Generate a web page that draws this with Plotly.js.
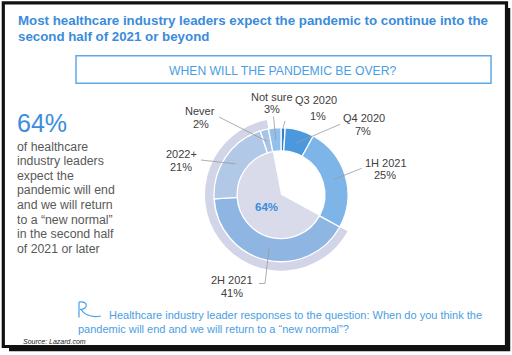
<!DOCTYPE html>
<html>
<head>
<meta charset="utf-8">
<script src="https://cdn.plot.ly/plotly-3.0.1.min.js"></script>
<style>html,body{margin:0;padding:0;background:#fff;}#chart{width:512px;height:355px;}</style>
</head>
<body>
<div id="chart"></div>
<script>
// ---- data ----
const categories = ['Q3 2020', 'Q4 2020', '1H 2021', '2H 2021', '2022+', 'Never', 'Not sure'];
const values = [1, 7, 25, 41, 21, 2, 3];
const highlighted = ['2H 2021', '2022+', 'Never'];
const titleLines = ['Most healthcare industry leaders expect the pandemic to continue into the', 'second half of 2021 or beyond'];
const boxTitle = 'WHEN WILL THE PANDEMIC BE OVER?';
const sideLines = ['of healthcare', 'industry leaders', 'expect the', 'pandemic will end', 'and we will return', 'to a \u201cnew normal\u201d', 'in the second half', 'of 2021 or later'];
const footLines = ['Healthcare industry leader responses to the question: When do you think the', 'pandemic will end and we will return to a \u201cnew normal\u201d?'];
const sourceText = 'Source: Lazard.com';

// ---- styles / positions ----
const sliceColors = ['#2f80d0', '#4b98df', '#7db5e8', '#8fb5e2', '#b1c8e7', '#a8c3e8', '#92bfeb'];
const ringColor = '#d2d5e7';
const wedgeColor = '#d9dbea';
const W = 512, H = 355;
const cx = 281, cy = 194.7, R = 67, holeFrac = 0.655, ringR = 76;
// label centres [line1 x,y, line2 x,y], leader start (label side), radius factor on slice
const labelPos = {
  'Q3 2020': {l1: [316, 100], l2: [318, 115.5], lead: [[285, 121]], rf: 1.0},
  'Q4 2020': {l1: [363.5, 118.3], l2: [363.3, 130.7], lead: [[340, 124.3]], rf: 0.8},
  '1H 2021': {l1: [386, 163.3], l2: [385, 175], lead: [[361.7, 168.3]], rf: 0.82},
  '2H 2021': {l1: [232, 280], l2: [231.7, 292.7], lead: [[259, 283.5], [265, 283.5]], rf: 0.82},
  '2022+': {l1: [181.7, 154.3], l2: [180.7, 166.7], lead: [[201, 160]], rf: 0.82},
  'Never': {l1: [200, 111], l2: [200.7, 124.3], lead: [[219, 117]], rf: 0.82},
  'Not sure': {l1: [272, 96.7], l2: [271.7, 109], lead: [[273.5, 116.5]], rf: 0.82}
};
const FONT = 'Liberation Sans, Arial, sans-serif';
const blue1 = '#3a8cdc', blue2 = '#4a9ee3';

const px = x => x / W, py = y => 1 - y / H;
const dom = r => ({x: [px(cx - r), px(cx + r)], y: [py(cy + r), py(cy - r)]});

const total = values.reduce((a, b) => a + b, 0);
const hiIdx = highlighted.map(c => categories.indexOf(c));
const firstHi = Math.min(...hiIdx), lastHi = Math.max(...hiIdx);
const pre = values.slice(0, firstHi).reduce((a, b) => a + b, 0);
const hi = values.slice(firstHi, lastHi + 1).reduce((a, b) => a + b, 0);
const post = total - pre - hi;
const hiText = Math.round(hi / total * 100) + '%';

const base = {type: 'pie', sort: false, direction: 'clockwise', rotation: 0, textinfo: 'none', hoverinfo: 'skip', showlegend: false};
const clear = 'rgba(0,0,0,0)';
const traces = [
  Object.assign({}, base, {values: [pre, hi, post], labels: ['a', 'b', 'c'], domain: dom(ringR), hole: R / ringR - 0.01,
    marker: {colors: [clear, ringColor, clear], line: {width: 0}}}),
  Object.assign({}, base, {values: [pre, hi, post], labels: ['a', 'b', 'c'], domain: dom(R * holeFrac), hole: 0,
    marker: {colors: [clear, wedgeColor, clear], line: {width: 0}}}),
  Object.assign({}, base, {values: values, labels: categories, domain: dom(R), hole: holeFrac,
    marker: {colors: sliceColors, line: {color: '#ffffff', width: 1.3}}})
];

const annotations = [];
const shapes = [];
const ann = (x, y, text, opt) => annotations.push(Object.assign({xref: 'paper', yref: 'paper', x: px(x), y: py(y), text: text, showarrow: false,
  xanchor: 'left', yanchor: 'middle', borderpad: 0, font: {family: FONT, size: 11, color: '#404040'}}, opt || {}));

// title
titleLines.forEach((t, i) => ann(17, 20.7 + 16 * i, '<b>' + t + '</b>', {font: {family: FONT, size: 13.3, color: blue1}}));
// boxed subtitle
shapes.push({type: 'rect', xref: 'paper', yref: 'paper', x0: px(76), x1: px(491), y0: py(83.3), y1: py(55.7), line: {color: '#5ea8e8', width: 1.5}});
ann(283.3, 70.7, boxTitle, {xanchor: 'center', font: {family: FONT, size: 12.2, color: blue2}});
// left side
ann(16, 122.5, hiText, {font: {family: FONT, size: 25, color: blue1}});
sideLines.forEach((t, i) => ann(16.3, 146.7 + 14.6 * i, t, {font: {family: FONT, size: 12.3, color: '#595959'}}));
// centre of donut
ann(266.7, 207.3, '<b>' + hiText + '</b>', {xanchor: 'center', font: {family: FONT, size: 11.5, color: blue1}});

// slice labels + leader lines computed from data
let cum = 0;
categories.forEach((c, i) => {
  const mid = (cum + values[i] / 2) / total * 2 * Math.PI;
  cum += values[i];
  const p = labelPos[c];
  ann(p.l1[0], p.l1[1], c, {xanchor: 'center'});
  ann(p.l2[0], p.l2[1], values[i] + '%', {xanchor: 'center'});
  const r = R * p.rf;
  const ex = cx + r * Math.sin(mid), ey = cy - r * Math.cos(mid);
  const pts = p.lead.concat([[ex, ey]]);
  let path = 'M' + pts.map(q => px(q[0]) * W + ',' + q[1]).join(' L');
  // use paper coordinates path
  path = 'M' + pts.map(q => px(q[0]) + ',' + py(q[1])).join(' L');
  shapes.push({type: 'path', xref: 'paper', yref: 'paper', path: path, line: {color: '#9a9a9a', width: 0.8}});
});

// footer logo (stylised R)
const P = (x, y) => px(x) + ',' + py(y);
shapes.push({type: 'path', xref: 'paper', yref: 'paper', line: {color: blue2, width: 1.2},
  path: 'M' + P(79, 302) + ' L' + P(79, 317.5)});
shapes.push({type: 'path', xref: 'paper', yref: 'paper', line: {color: blue2, width: 1.2},
  path: 'M' + P(79, 302) + ' C' + P(88, 301) + ' ' + P(89, 309) + ' ' + P(80, 309.5)});
shapes.push({type: 'path', xref: 'paper', yref: 'paper', line: {color: blue2, width: 1.2},
  path: 'M' + P(81, 309.5) + ' Q' + P(87, 318.5) + ' ' + P(101, 316)});
ann(107.7, 314.5, footLines[0], {font: {family: FONT, size: 11, color: blue2}});
ann(76.7, 328.5, footLines[1], {font: {family: FONT, size: 11, color: blue2}});
ann(21.5, 341, '<i>' + sourceText + '</i>', {font: {family: FONT, size: 7, color: '#222222'}});

// frame with shadow
shapes.push({type: 'path', xref: 'paper', yref: 'paper', line: {color: '#111111', width: 3.5},
  path: 'M' + P(9, 349.5) + ' L' + P(508.5, 349.5) + ' L' + P(508.5, 8)});
shapes.push({type: 'rect', xref: 'paper', yref: 'paper', x0: px(3.3), x1: px(506.5), y0: py(346.5), y1: py(2.8), line: {color: '#111111', width: 3.2}});

Plotly.newPlot('chart', traces, {
  width: W, height: H, margin: {l: 0, r: 0, t: 0, b: 0},
  paper_bgcolor: '#ffffff', plot_bgcolor: '#ffffff',
  annotations: annotations, shapes: shapes, showlegend: false
}, {displayModeBar: false, staticPlot: true});
</script>
</body>
</html>
